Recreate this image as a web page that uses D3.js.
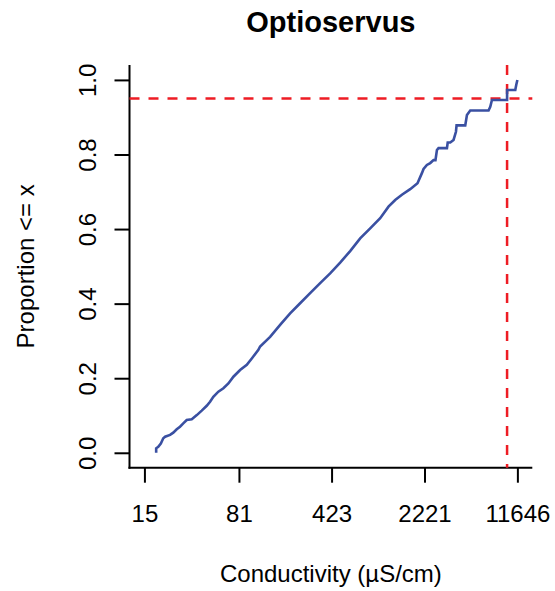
<!DOCTYPE html>
<html>
<head>
<meta charset="utf-8">
<script src="https://cdn.jsdelivr.net/npm/d3@7"></script>
<style>
  html, body { margin: 0; padding: 0; background: #fff; }
  svg { display: block; font-family: "Liberation Sans", Arial, Helvetica, sans-serif; }
</style>
</head>
<body>
<script>
// ---- data ----
const title = "Optioservus";
const xLabel = "Conductivity (\u00b5S/cm)";
const yLabel = "Proportion <= x";
const xTicks = [15, 81, 423, 2221, 11646];
const yTicks = [0.0, 0.2, 0.4, 0.6, 0.8, 1.0];
const xRange = [15, 11646];           // data range used for the log axis
const q95x = 9690;                    // vertical reference line
const q95y = 0.95;                    // horizontal reference line
const conductivity = [
  18.5, 18.5, 19.2, 20.1, 21.0, 21.7, 23.7, 25.1, 26.7, 28.3, 30.0, 31.9, 34.9, 38.2,
  41.7, 45.6, 48.4, 51.3, 56.1, 61.4, 67.1, 73.4, 82.7, 93.2, 101.9, 114.6, 118.2,
  141.3, 168.9, 201.9, 241.3, 288.5, 345.0, 412.4, 493.1, 589.4, 704.6, 842.4, 1007,
  1168, 1316, 1484, 1720, 1960, 2120, 2183, 2318, 2459, 2609, 2700, 2772, 2852, 3314,
  3360, 3515, 3728, 3892, 3935, 4594, 4735, 5022, 6963, 7178, 7398, 9690, 9690, 11217,
  11419, 11646
];
const proportion = [
  0.000, 0.012, 0.016, 0.025, 0.039, 0.043, 0.048, 0.054, 0.063, 0.070, 0.079, 0.088, 0.090, 0.101,
  0.113, 0.126, 0.137, 0.150, 0.164, 0.173, 0.186, 0.204, 0.222, 0.236, 0.253, 0.276, 0.285,
  0.311, 0.343, 0.374, 0.401, 0.428, 0.455, 0.481, 0.510, 0.541, 0.575, 0.602, 0.629,
  0.660, 0.678, 0.692, 0.707, 0.723, 0.750, 0.761, 0.772, 0.777, 0.785, 0.785, 0.812, 0.817, 0.817,
  0.832, 0.832, 0.839, 0.861, 0.878, 0.878, 0.906, 0.918, 0.918, 0.928, 0.946, 0.946, 0.973, 0.973,
  0.987, 1.000
];

// ---- layout ----
const W = 555, H = 591;
const plot = { left: 129.5, right: 532.3, top: 65, bottom: 467.7 };
const FONT = 24;

const svg = d3.select("body").append("svg").attr("width", W).attr("height", H);

const lx0 = Math.log10(xRange[0]), lx1 = Math.log10(xRange[1]);
const ext = 0.04 * (lx1 - lx0);
const x = d3.scaleLog()
  .domain([Math.pow(10, lx0 - ext), Math.pow(10, lx1 + ext)])
  .range([plot.left, plot.right]);
const y = d3.scaleLinear()
  .domain([-0.04, 1.04])
  .range([plot.bottom, plot.top]);

// axes
const xAxis = d3.axisBottom(x).tickValues(xTicks).tickFormat(d => String(d))
  .tickSizeOuter(0).tickSizeInner(15).tickPadding(10);
const gx = svg.append("g").attr("transform", `translate(0,${plot.bottom})`).call(xAxis);
gx.select(".domain").remove();
gx.append("line").attr("x1", plot.left - 1).attr("x2", plot.right)
  .attr("stroke", "#000").attr("stroke-width", 2);
gx.selectAll(".tick line").attr("stroke", "#000").attr("stroke-width", 2);
gx.selectAll(".tick text").attr("font-size", FONT).attr("fill", "#000")
  .attr("font-family", "Liberation Sans, Arial, sans-serif")
  .attr("dy", null).attr("y", 54);

const yAxis = d3.axisLeft(y).tickValues(yTicks).tickFormat(d3.format(".1f"))
  .tickSizeOuter(0).tickSizeInner(15);
const gy = svg.append("g").attr("transform", `translate(${plot.left},0)`).call(yAxis);
gy.select(".domain").remove();
gy.append("line").attr("y1", plot.top).attr("y2", plot.bottom + 1)
  .attr("stroke", "#000").attr("stroke-width", 2);
gy.selectAll(".tick line").attr("stroke", "#000").attr("stroke-width", 2);
gy.selectAll(".tick text").attr("font-size", FONT).attr("fill", "#000")
  .attr("font-family", "Liberation Sans, Arial, sans-serif")
  .attr("x", null).attr("dy", null).attr("text-anchor", "middle")
  .attr("transform", "translate(-34,0) rotate(-90)");

// reference lines
const red = "#ee1c24";
svg.append("line")
  .attr("x1", plot.left).attr("x2", plot.right)
  .attr("y1", y(q95y)).attr("y2", y(q95y))
  .attr("stroke", red).attr("stroke-width", 2.5).attr("stroke-dasharray", "10 9");
svg.append("line")
  .attr("x1", x(q95x)).attr("x2", x(q95x))
  .attr("y1", plot.top).attr("y2", plot.bottom)
  .attr("stroke", red).attr("stroke-width", 2.5).attr("stroke-dasharray", "10 9");

// ECDF curve
const pts = conductivity.map((c, i) => [c, proportion[i]]);
const line = d3.line().x(d => x(d[0])).y(d => y(d[1])).curve(d3.curveLinear);
svg.append("path").datum(pts)
  .attr("d", line).attr("fill", "none")
  .attr("stroke", "#3a50a2").attr("stroke-width", 2.6)
  .attr("stroke-linejoin", "miter").attr("stroke-linecap", "butt");

// titles
svg.append("text").attr("x", (plot.left + plot.right) / 2).attr("y", 32)
  .attr("text-anchor", "middle").attr("font-size", 29).attr("font-weight", "bold")
  .attr("fill", "#000").text(title);
svg.append("text").attr("x", (plot.left + plot.right) / 2).attr("y", 582)
  .attr("text-anchor", "middle").attr("font-size", FONT).attr("fill", "#000").text(xLabel);
svg.append("text")
  .attr("transform", `translate(34,${(plot.top + plot.bottom) / 2}) rotate(-90)`)
  .attr("text-anchor", "middle").attr("font-size", FONT).attr("fill", "#000").text(yLabel);
</script>
</body>
</html>
